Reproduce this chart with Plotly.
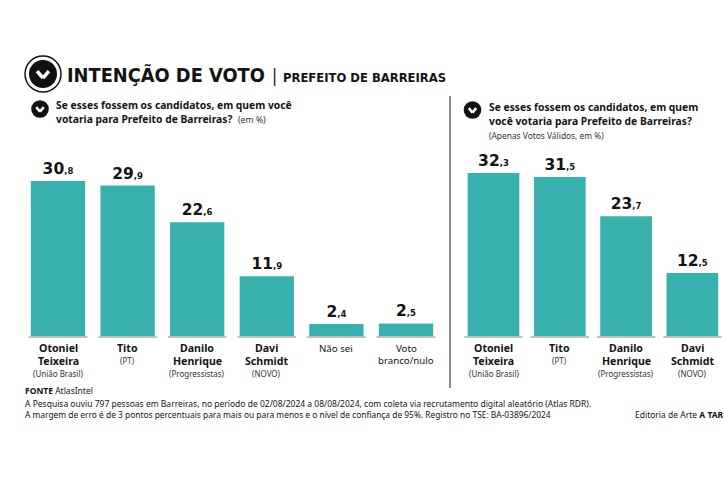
import plotly.graph_objects as go

W, H = 724, 500
FONT = "Noto Sans"
NUM = "DejaVu Sans"
NARROW = "DejaVu Sans Condensed"
TEAL = "#38b0ae"
INK = "#141414"

names_left = [["Otoniel", "Teixeira"], ["Tito"], ["Danilo", "Henrique"], ["Davi", "Schmidt"]]
parties_left = ["(União Brasil)", "(PT)", "(Progressistas)", "(NOVO)"]
extra_left = [["Não sei"], ["Voto", "branco/nulo"]]
values_left = [30.8, 29.9, 22.6, 11.9, 2.4, 2.5]
labels_left = [("30", "8"), ("29", "9"), ("22", "6"), ("11", "9"), ("2", "4"), ("2", "5")]
values_right = [32.3, 31.5, 23.7, 12.5]
labels_right = [("32", "3"), ("31", "5"), ("23", "7"), ("12", "5")]

def px(x): return x / W
def py(y): return 1 - y / H

def rich(parts):
    return [f"<b>{a}</b><span style='font-size:8.5px'><b>,{b}</b></span>" for a, b in parts]

fig = go.Figure()
xl = list(range(len(values_left)))
xr = list(range(len(values_right)))
fig.add_trace(go.Bar(x=xl, y=values_left, text=rich(labels_left), textposition="outside",
                     textangle=0, cliponaxis=False, marker=dict(color=TEAL, line_width=0),
                     textfont=dict(family=NUM, size=15.5, color=INK),
                     hoverinfo="skip", showlegend=False, xaxis="x", yaxis="y"))
fig.add_trace(go.Bar(x=xr, y=values_right, text=rich(labels_right), textposition="outside",
                     textangle=0, cliponaxis=False, marker=dict(color=TEAL, line_width=0),
                     textfont=dict(family=NUM, size=15.5, color=INK),
                     hoverinfo="skip", showlegend=False, xaxis="x2", yaxis="y2"))

base_px = 336
fig.update_layout(
    width=W, height=H, margin=dict(l=0, r=0, t=0, b=0), autosize=False,
    paper_bgcolor="white", plot_bgcolor="white", bargap=0.22,
    font=dict(family=FONT, color=INK),
    xaxis=dict(domain=[px(23.2), px(440.8)], range=[-0.5, 5.5], visible=False, fixedrange=True),
    yaxis=dict(domain=[py(base_px), py(130)], range=[0, 206 / 5.03], visible=False, fixedrange=True, anchor="x"),
    xaxis2=dict(domain=[px(460.35), 1], range=[-0.5, 3.477], visible=False, fixedrange=True),
    yaxis2=dict(domain=[py(base_px), py(130)], range=[0, 206 / 5.05], visible=False, fixedrange=True, anchor="x2"),
)

shapes, ann = [], []

def text(x, y, s, size, anchor="left", family=FONT, color=INK):
    ann.append(dict(xref="paper", yref="paper", x=px(x), y=py(y), text=s, showarrow=False,
                    xanchor=anchor, yanchor="middle", align=anchor, borderpad=0,
                    font=dict(family=family, size=size, color=color)))

def cat_label(xref, i, lines, bold, party):
    y = 348
    for ln in lines:
        ann.append(dict(xref=xref, yref="paper", x=i, y=py(y), text=f"<b>{ln}</b>" if bold else ln,
                        showarrow=False, xanchor="center", yanchor="middle", borderpad=0,
                        font=dict(family=FONT, size=10.6 if bold else 9.7, color=INK)))
        y += 12.5
    if party:
        ann.append(dict(xref=xref, yref="paper", x=i, y=py(y if len(lines) > 1 else 360), text=party,
                        showarrow=False, xanchor="center", yanchor="middle", borderpad=0,
                        font=dict(family=FONT, size=8, color="#333333")))

for i, n in enumerate(names_left):
    cat_label("x", i, n, True, parties_left[i])
    cat_label("x2", i, n, True, parties_left[i])
for j, n in enumerate(extra_left):
    cat_label("x", 4 + j, n, False, None)

for xref, xs, half in (("x", xl, 0.42), ("x2", xr, 0.44)):
    for i in xs:
        shapes.append(dict(type="line", xref=xref, yref="paper", x0=i - half, x1=i + half,
                           y0=py(337), y1=py(337), line=dict(color="#808080", width=1.2)))

def icon(cx, cy, r, ring=False):
    if ring:
        shapes.append(dict(type="circle", xref="paper", yref="paper", x0=px(cx - r - 4), x1=px(cx + r + 4),
                           y0=py(cy + r + 4), y1=py(cy - r - 4), line=dict(color="#111111", width=1.5),
                           fillcolor="white"))
    shapes.append(dict(type="circle", xref="paper", yref="paper", x0=px(cx - r), x1=px(cx + r),
                       y0=py(cy + r), y1=py(cy - r), line_width=0, fillcolor="#111111"))
    a, b = r * 0.42, r * 0.3
    for sx in (-1, 1):
        shapes.append(dict(type="line", xref="paper", yref="paper", x0=px(cx + sx * a), y0=py(cy - b * 0.7),
                           x1=px(cx), y1=py(cy + b), line=dict(color="white", width=max(2.5, r * 0.26))))

icon(43, 74, 14, True)
icon(40, 109, 8.8)
icon(472.5, 110, 8.8)

shapes.append(dict(type="line", xref="paper", yref="paper", x0=px(450), x1=px(450), y0=py(96), y1=py(388),
                   line=dict(color="#555555", width=1.3)))

text(66, 75, "<b>INTENÇÃO DE VOTO</b>", 19.8, family=NARROW)
text(271, 76, "|", 17, family=NARROW)
text(282, 77, "<b>PREFEITO DE BARREIRAS</b>", 12.9, family=NARROW)

text(55, 105, "<b>Se esses fossem os candidatos, em quem você</b>", 10.3)
text(55, 119, "<b>votaria para Prefeito de Barreiras?</b>", 10.3)
text(237, 120, "(em %)", 8.7, color="#333333")

text(488, 107, "<b>Se esses fossem os candidatos, em quem</b>", 10.3)
text(488, 121, "<b>você votaria para Prefeito de Barreiras?</b>", 10.3)
text(488, 135, "(Apenas Votos Válidos, em %)", 8.4, color="#333333")

text(24, 390, "<b>FONTE</b> AtlasIntel", 8.5)
text(24, 403, "A Pesquisa ouviu 797 pessoas em Barreiras, no período de 02/08/2024 a 08/08/2024, com coleta via recrutamento digital aleatório (Atlas RDR).", 8.5)
text(24, 414, "A margem de erro é de 3 pontos percentuais para mais ou para menos e o nível de confiança de 95%. Registro no TSE: BA-03896/2024", 8.4)
text(634, 414, "Editoria de Arte <b>A TARDE</b>", 8.5)

fig.update_layout(shapes=shapes, annotations=ann)
fig.write_html("out.html", config={"displayModeBar": False},
               post_script="document.body.style.margin='0';document.body.style.overflow='hidden';")
